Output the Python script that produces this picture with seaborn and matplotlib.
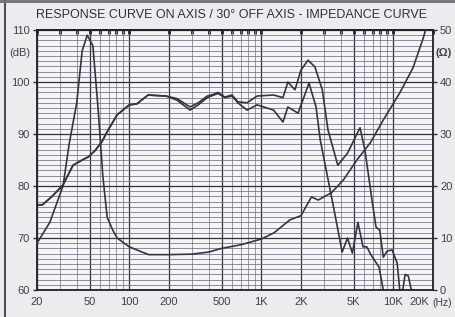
import numpy as np
import matplotlib
matplotlib.use('Agg')
import matplotlib.pyplot as plt
import matplotlib.ticker as mticker
import matplotlib.transforms as mtransforms
import pandas as pd
import seaborn as sns

# on-axis response (dB)
on_freq = [20, 22, 26, 31.5, 37.5, 44, 49, 55, 62, 70, 81, 100, 114, 139, 160, 190, 230,
           289, 333, 390, 430, 470, 530, 600, 665, 780, 930, 1240, 1460, 1590, 1800, 2000,
           2260, 2550, 2900, 3200, 3800, 4500, 5600, 6100, 6900, 7400, 7900, 8400, 9000,
           9800, 10700, 11200, 11800, 12300, 13000, 13700, 14500]
on_db = [76.3, 76.4, 78, 80.2, 84, 85, 85.6, 86.8, 88.5, 91, 93.7, 95.6, 95.8, 97.5, 97.4,
         97.3, 96.8, 95.2, 96, 97.3, 97.6, 98, 97.1, 97.5, 96.2, 96, 97.3, 97.5, 97, 100,
         98.5, 102.3, 104.2, 102.9, 98.5, 90.8, 84, 86.3, 91.2, 86.9, 77.3, 72.1, 71.5,
         66.3, 67.5, 67.7, 65.2, 60, 60, 63, 62.7, 60, 60]

# 30 deg off axis response (dB)
off_freq = [20, 22, 26, 31.5, 37.5, 44, 49, 55, 62, 70, 81, 100, 114, 139, 160, 190, 230,
            289, 333, 390, 470, 530, 600, 665, 780, 930, 1240, 1460, 1590, 1900, 2300, 2600,
            2800, 3600, 4100, 4500, 4900, 5400, 5900, 6300, 6800, 7800, 8400]
off_db = [76.3, 76.4, 78, 80.2, 84, 85, 85.6, 86.8, 88.5, 91, 93.7, 95.6, 95.8, 97.5, 97.4,
          97.3, 96.5, 94.6, 95.6, 97, 97.8, 97, 97.3, 96, 94.6, 95.6, 94.6, 92.3, 95.2, 94,
          99.8, 95.2, 88.8, 74.8, 67.3, 70, 67.1, 73, 68.3, 68.3, 66.7, 64.4, 60]

# impedance (ohm)
imp_freq = [20, 25, 31.5, 35, 40, 44, 48, 53, 58, 63, 68, 75, 81, 100, 140, 200, 300, 400,
            500, 700, 1000, 1250, 1650, 2000, 2400, 2700, 3400, 4200, 5300, 6700, 8400,
            11200, 14100, 16900, 18000]
imp_ohm = [9, 13, 20, 28, 36, 46, 49, 47, 35, 22, 14, 11.5, 10, 8.3, 6.8, 6.8, 6.9, 7.3, 8,
           8.7, 9.8, 11, 13.5, 14.3, 17.9, 17.3, 18.7, 21.2, 25, 28.3, 32.7, 37.9, 42.7,
           48.5, 51]

major_hz = [20, 50, 100, 200, 500, 1000, 2000, 5000, 10000, 20000]
major_lbl = ['20', '50', '100', '200', '500', '1K', '2K', '5K', '10K', '20K']

sns.set_theme(style='white')
narrow = ['Liberation Sans Narrow', 'DejaVu Sans Condensed', 'Liberation Sans', 'DejaVu Sans']
plt.rcParams['font.family'] = narrow

fig = plt.figure(figsize=(4.55, 3.17), dpi=100, facecolor='#ececee')
ax = fig.add_axes([37 / 455, 1 - 290 / 317, (433 - 37) / 455, (290 - 30) / 317])
ax.set_facecolor('#f5f5f8')

ink = '#35353f'
on = pd.DataFrame({'f': on_freq, 'db': on_db})
off = pd.DataFrame({'f': off_freq, 'db': off_db})
sns.lineplot(data=on, x='f', y='db', ax=ax, color=ink, lw=1.2, sort=False)
sns.lineplot(data=off, x='f', y='db', ax=ax, color=ink, lw=1.2, sort=False)

ax.set_xscale('log')
ax.set_xlim(20, 20000)
ax.set_ylim(60, 110)
ax.set_xlabel('')
ax.set_ylabel('')

ax.xaxis.set_major_locator(mticker.FixedLocator(major_hz))
ax.xaxis.set_major_formatter(mticker.FixedFormatter(major_lbl))
ax.xaxis.set_minor_locator(mticker.LogLocator(base=10, subs=np.arange(1, 10)))
ax.xaxis.set_minor_formatter(mticker.NullFormatter())
ax.yaxis.set_major_locator(mticker.MultipleLocator(10))
ax.yaxis.set_minor_locator(mticker.MultipleLocator(1))

ax.grid(which='minor', axis='x', color='#8a8a96', lw=0.6)
ax.grid(which='minor', axis='y', color='#6e6e80', lw=0.55)
ax.grid(which='major', axis='both', color='#303040', lw=0.9)
ax.set_axisbelow(True)

ax.tick_params(axis='both', which='major', direction='out', length=3, width=1, pad=2,
               colors='#303040', labelsize=8, labelcolor='#404048')
ax.tick_params(axis='both', which='minor', length=0)
for s in ax.spines.values():
    s.set_color('#202028')
    s.set_linewidth(1.3)

# 20K label sits a bit left of its tick
offset = mtransforms.ScaledTranslation(-14 / 100, 0, fig.dpi_scale_trans)
lbl = ax.xaxis.get_majorticklabels()[-1]
lbl.set_transform(lbl.get_transform() + offset)

# small marks along the top edge
top = ax.secondary_xaxis('top')
top.xaxis.set_major_locator(mticker.FixedLocator(major_hz))
top.xaxis.set_minor_locator(mticker.LogLocator(base=10, subs=np.arange(1, 10)))
top.xaxis.set_major_formatter(mticker.NullFormatter())
top.xaxis.set_minor_formatter(mticker.NullFormatter())
top.tick_params(which='both', direction='in', length=3, width=2, colors='#202028')

# impedance on right axis
ax2 = ax.twinx()
imp = pd.DataFrame({'f': imp_freq, 'ohm': imp_ohm})
sns.lineplot(data=imp, x='f', y='ohm', ax=ax2, color=ink, lw=1.2, sort=False)
ax2.set_ylim(0, 50)
ax2.set_xlim(20, 20000)
ax2.set_ylabel('')
ax2.yaxis.set_major_locator(mticker.MultipleLocator(10))
ax2.tick_params(axis='y', direction='out', length=3, width=1, pad=2, colors='#303040',
                labelsize=8, labelcolor='#404048')
ax2.grid(False)
for s in ax2.spines.values():
    s.set_visible(False)

fig.text(20 / 455, 1 - 53 / 317, '(dB)', fontsize=8, color='#404048', ha='center', va='center')
fig.text(444 / 455, 1 - 53 / 317, '(\u03a9)', fontsize=8, color='#404048', ha='center', va='center',
         fontweight='bold')
fig.text(442 / 455, 1 - 303 / 317, '(Hz)', fontsize=7.5, color='#404048', ha='center', va='center')
fig.text(232 / 455, 1 - 15 / 317, 'RESPONSE CURVE ON AXIS / 30\u00b0 OFF AXIS - IMPEDANCE CURVE',
         fontsize=9, color='#303038', ha='center', va='center',
         family=['Liberation Sans', 'DejaVu Sans'])

fig.add_artist(plt.Line2D([5 / 455, 5 / 455], [0, 1], color='#50505a', lw=1.5))
fig.add_artist(plt.Line2D([0, 1], [0.997, 0.997], color='#70707a', lw=2))

fig.savefig('out.png', dpi=100, facecolor=fig.get_facecolor())
